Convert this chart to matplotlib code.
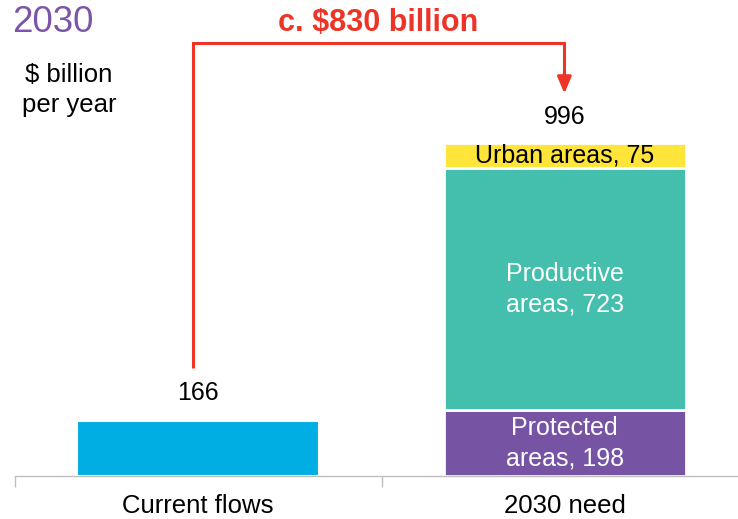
import matplotlib
matplotlib.use("Agg")
import matplotlib.pyplot as plt

plt.rcParams["font.family"] = ["Liberation Sans", "DejaVu Sans"]

# ── Data ──────────────────────────────────────────────────────────────────────
categories = ["Current flows", "2030 need"]
current_flows = 166
seg_labels = ["Protected\nareas", "Productive\nareas", "Urban areas"]
seg_values = [198, 723, 75]
need_total = sum(seg_values)          # 996
gap_label = "c. $830 billion"

C_CYAN   = "#00AEE3"
C_PURPLE = "#7753A4"
C_TEAL   = "#45BFAD"
C_YELLOW = "#FFE43A"
C_RED    = "#EE3427"
C_TITLE  = "#7B56A8"
C_AXIS   = "#BFBFBF"
seg_colors = [C_PURPLE, C_TEAL, C_YELLOW]
seg_text   = ["white", "white", "black"]

# ── Figure ────────────────────────────────────────────────────────────────────
W, H = 738, 519
fig = plt.figure(figsize=(W / 100, H / 100), dpi=100)
fig.patch.set_facecolor("white")

ax = fig.add_axes([15 / W, 43 / H, (W - 15) / W, 476 / H])
ax.set_xlim(-0.5, -0.5 + (W - 15) / 366.5)
ax.set_ylim(0, 476 / 0.3343)
for s in ["top", "left", "right"]:
    ax.spines[s].set_visible(False)
ax.spines["bottom"].set_color(C_AXIS)
ax.spines["bottom"].set_linewidth(1.0)
ax.set_yticks([])

# category separators as major ticks, labels as minor ticks
ax.set_xticks([-0.5, 0.5])
ax.set_xticklabels(["", ""])
ax.tick_params(axis="x", which="major", length=8, color=C_AXIS, width=1.0)
ax.set_xticks([0, 1], minor=True)
ax.set_xticklabels(categories, minor=True, fontsize=18.5)
ax.tick_params(axis="x", which="minor", length=0, pad=13)

BAR_W = 0.66

# current flows bar
ax.bar(0, current_flows, width=BAR_W, color=C_CYAN, edgecolor="white", linewidth=1.5)
ax.annotate(str(current_flows), (0, current_flows), xytext=(0, 20),
            textcoords="offset points", ha="center", va="center", fontsize=18)

# stacked 2030 need bar
bottom = 0
for lab, val, col, tc in zip(seg_labels, seg_values, seg_colors, seg_text):
    ax.bar(1, val, bottom=bottom, width=BAR_W, color=col,
           edgecolor="white", linewidth=2)
    ax.text(1, bottom + val / 2, f"{lab}, {val}", ha="center", va="center",
            fontsize=18, color=tc, linespacing=1.35)
    bottom += val
ax.annotate(str(need_total), (1, need_total), xytext=(0, 19),
            textcoords="offset points", ha="center", va="center", fontsize=18)

# ── Gap bracket ───────────────────────────────────────────────────────────────
x_left, x_right = -0.014, 0.999
y_low, y_top, y_tip = 323, 1295, 1144
ax.plot([x_left, x_left, x_right, x_right], [y_low, y_top, y_top, y_tip + 50],
        color=C_RED, lw=2.2, clip_on=False, solid_capstyle="butt",
        solid_joinstyle="miter")
ax.annotate("", xy=(x_right, y_tip), xytext=(x_right, y_tip + 62),
            arrowprops=dict(arrowstyle="-|>,head_length=1.0,head_width=0.42",
                            color=C_RED, lw=2.2, shrinkA=0, shrinkB=0),
            annotation_clip=False)
fig.text(378 / W, 1 - 23 / H, gap_label, ha="center", va="center",
         fontsize=22, weight="bold", color=C_RED)

# ── Titles ────────────────────────────────────────────────────────────────────
fig.text(12 / W, 1 - 23 / H, "2030", ha="left", va="center",
         fontsize=26.5, color=C_TITLE)
fig.text(69 / W, 1 - 90 / H, "$ billion\nper year", ha="center", va="center",
         fontsize=18.5, linespacing=1.35)

fig.savefig("out.png", dpi=100, facecolor="white")
